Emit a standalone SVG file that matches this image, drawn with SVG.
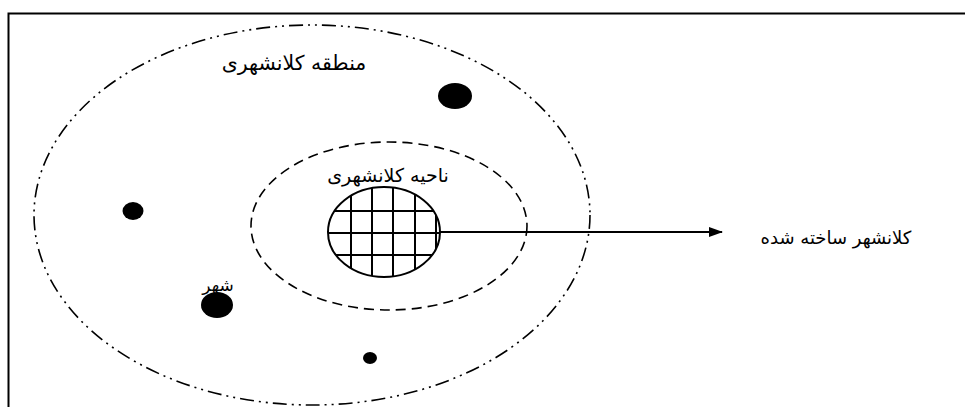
<svg xmlns="http://www.w3.org/2000/svg" width="965" height="407" viewBox="0 0 965 407">
<style>
.lbl{font-family:"DejaVu Sans","Noto Sans",sans-serif;fill:#000}
.dot{fill:#000}
.grid{stroke:#000;stroke-width:2}
</style>
<defs>
<marker id="ah" markerWidth="14" markerHeight="10" refX="13" refY="5" orient="auto" markerUnits="userSpaceOnUse">
<path d="M0,0 L14,5 L0,10 Z" fill="#000"/>
</marker>
<clipPath id="gc"><ellipse cx="384" cy="232" rx="56" ry="45"/></clipPath>
</defs>
<rect width="965" height="407" fill="#fff"/>
<g id="frame">
<path d="M8.5,407 L8.5,13.5 L965,13.5" fill="none" stroke="#000" stroke-width="2"/>
</g>
<g id="metro-region">
<ellipse cx="312" cy="215" rx="278" ry="190" fill="none" stroke="#000" stroke-width="1.6" stroke-dasharray="14,5,2,5,2,5"/>
<text class="lbl" x="294" y="70" font-size="20.5" text-anchor="middle" direction="rtl">منطقه کلانشهری</text>
</g>
<g id="metro-area">
<ellipse cx="389" cy="226" rx="138" ry="84" fill="none" stroke="#000" stroke-width="1.6" stroke-dasharray="10,6"/>
<text class="lbl" x="388" y="182" font-size="19" text-anchor="middle" direction="rtl">ناحیه کلانشهری</text>
</g>
<g id="built-metro">
<ellipse cx="384" cy="232" rx="56" ry="45" fill="#fff"/>
<g clip-path="url(#gc)" class="grid">
<line x1="351" y1="180" x2="351" y2="290"/>
<line x1="372" y1="180" x2="372" y2="290"/>
<line x1="393" y1="180" x2="393" y2="290"/>
<line x1="415" y1="180" x2="415" y2="290"/>
<line x1="436" y1="180" x2="436" y2="290"/>
<line x1="320" y1="211" x2="450" y2="211"/>
<line x1="320" y1="233" x2="450" y2="233"/>
<line x1="320" y1="255" x2="450" y2="255"/>
</g>
<ellipse cx="384" cy="232" rx="56" ry="45" fill="none" stroke="#000" stroke-width="2"/>
</g>
<g id="city1"><ellipse class="dot" cx="455" cy="96" rx="17" ry="13"/></g>
<g id="city2"><ellipse class="dot" cx="133" cy="211" rx="10.5" ry="9"/></g>
<g id="city3">
<ellipse class="dot" cx="217" cy="305" rx="16" ry="13"/>
<text class="lbl" x="218" y="291" font-size="17" text-anchor="middle" direction="rtl">شهر</text>
</g>
<g id="city4"><ellipse class="dot" cx="370" cy="358" rx="7" ry="6"/></g>
<g id="label-built">
<text class="lbl" x="836" y="244" font-size="18" text-anchor="middle" direction="rtl">کلانشهر ساخته شده</text>
</g>
<g id="connectors">
<line x1="440" y1="232" x2="722" y2="232" stroke="#000" stroke-width="2" marker-end="url(#ah)"/>
</g>
</svg>
